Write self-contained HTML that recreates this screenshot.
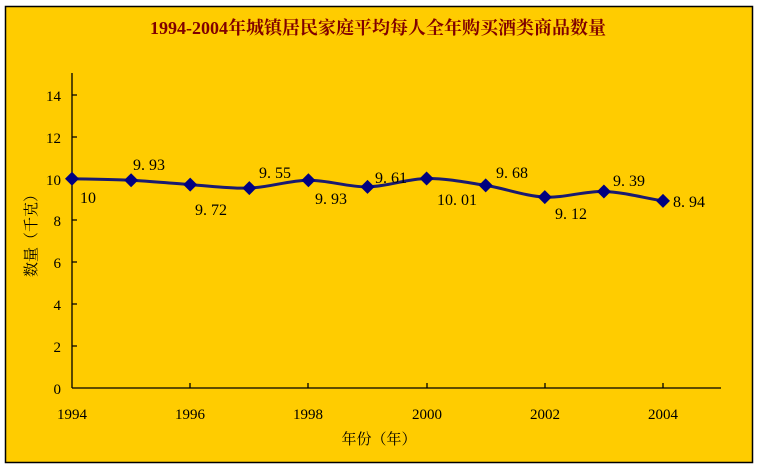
<!DOCTYPE html>
<html><head><meta charset="utf-8"><style>
body{margin:0;background:#fff}
svg{display:block}
text{font-family:"Liberation Serif","Noto Serif CJK SC",serif}
</style></head><body>
<svg width="758" height="470" viewBox="0 0 758 470">
<rect x="5.5" y="6.5" width="747" height="456" fill="#FFCC00" stroke="#000" stroke-width="1.5"/>
<text x="378" y="34" text-anchor="middle" font-size="18" font-weight="bold" fill="#800000">1994-2004年城镇居民家庭平均每人全年购买酒类商品数量</text>
<g stroke="#000" stroke-width="1.3" fill="none">
<line x1="72" y1="73" x2="72" y2="388"/>
<line x1="72" y1="388" x2="721" y2="388"/>
<path d="M72 95h5M72 137h5M72 179h5M72 220h5M72 262h5M72 304h5M72 346h5"/>
<path d="M190 388v-5M308 388v-5M427 388v-5M545 388v-5M663 388v-5"/>
</g>
<g font-size="15" fill="#000" text-anchor="end">
<text x="61" y="101">14</text><text x="61" y="143">12</text><text x="61" y="185">10</text>
<text x="61" y="226">8</text><text x="61" y="268">6</text><text x="61" y="310">4</text>
<text x="61" y="352">2</text><text x="61" y="394">0</text>
</g>
<g font-size="15" fill="#000" text-anchor="middle">
<text x="72" y="419">1994</text><text x="190" y="419">1996</text><text x="308" y="419">1998</text>
<text x="427" y="419">2000</text><text x="545" y="419">2002</text><text x="663" y="419">2004</text>
</g>
<text x="379" y="444" text-anchor="middle" font-size="15" fill="#000">年份（年）</text>
<text transform="translate(36,232) rotate(-90)" text-anchor="middle" font-size="15" fill="#000">数量（千克）</text>
<path fill="none" stroke="#1a1a70" stroke-width="3" d="M72 178.7 C91.7 179.2 111.4 179.2 131.1 180.2 C150.8 181.2 170.5 183.3 190.2 184.6 C209.9 185.9 229.6 188.8 249.3 188.1 C269 187.4 288.7 180.4 308.4 180.2 C328.1 180 347.8 187.2 367.5 186.9 C387.2 186.6 406.9 178.8 426.6 178.5 C446.3 178.2 466 182.3 485.7 185.4 C505.4 188.5 525.1 196.1 544.8 197.1 C564.5 198.1 584.2 190.9 603.9 191.5 C623.6 192.1 643.3 197.8 663 200.9"/>
<g fill="#000080">
<path d="M72 171.7l7 7-7 7-7-7z"/><path d="M131.1 173.2l7 7-7 7-7-7z"/><path d="M190.2 177.6l7 7-7 7-7-7z"/>
<path d="M249.3 181.1l7 7-7 7-7-7z"/><path d="M308.4 173.2l7 7-7 7-7-7z"/><path d="M367.5 179.9l7 7-7 7-7-7z"/>
<path d="M426.6 171.5l7 7-7 7-7-7z"/><path d="M485.7 178.4l7 7-7 7-7-7z"/><path d="M544.8 190.1l7 7-7 7-7-7z"/>
<path d="M603.9 184.5l7 7-7 7-7-7z"/><path d="M663 193.9l7 7-7 7-7-7z"/>
</g>
<g font-size="16" fill="#000" xml:space="preserve">
<text x="80" y="203">10</text><text x="133" y="170">9. 93</text><text x="195" y="215">9. 72</text>
<text x="259" y="178">9. 55</text><text x="315" y="204">9. 93</text><text x="375" y="183">9. 61</text>
<text x="437" y="205">10. 01</text><text x="496" y="178">9. 68</text><text x="555" y="219">9. 12</text>
<text x="613" y="186">9. 39</text><text x="673" y="207">8. 94</text>
</g>
</svg>
</body></html>
